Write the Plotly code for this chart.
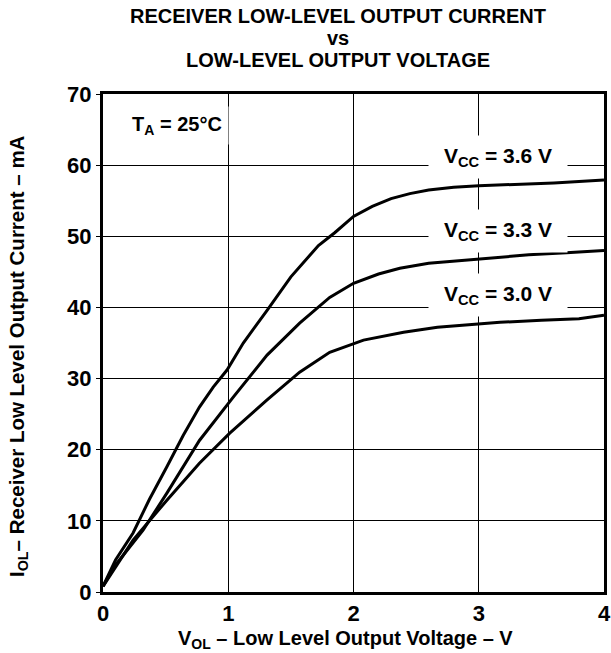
import plotly.graph_objects as go

# Data (V_OL in volts, I_OL in mA)
v_36 = [0.0, 0.1, 0.24, 0.37, 0.51, 0.64, 0.77, 0.88, 0.99, 1.12, 1.31, 1.5, 1.72, 1.85, 2.0, 2.15, 2.3, 2.45, 2.6, 2.8, 3.0, 3.2, 3.4, 3.6, 3.8, 4.0]
i_36 = [0.8, 4.5, 8.3, 13.0, 17.6, 22.0, 26.0, 28.8, 31.2, 35.0, 39.6, 44.3, 48.7, 50.5, 52.8, 54.2, 55.3, 56.0, 56.5, 56.9, 57.1, 57.2, 57.4, 57.5, 57.7, 57.9]

v_33 = [0.0, 0.1, 0.32, 0.51, 0.77, 1.04, 1.31, 1.57, 1.81, 2.0, 2.2, 2.37, 2.6, 2.85, 3.11, 3.4, 3.7, 4.0]
i_33 = [0.8, 3.8, 8.7, 13.9, 21.3, 27.4, 33.3, 37.8, 41.4, 43.4, 44.7, 45.5, 46.2, 46.6, 47.0, 47.4, 47.7, 48.0]

v_30 = [0.0, 0.1, 0.24, 0.51, 0.77, 1.01, 1.31, 1.57, 1.81, 2.08, 2.4, 2.67, 3.0, 3.17, 3.5, 3.8, 4.0]
i_30 = [0.8, 3.5, 7.3, 12.9, 18.1, 22.3, 27.0, 30.9, 33.7, 35.4, 36.5, 37.2, 37.7, 37.9, 38.2, 38.4, 38.9]

labels = ["V<sub>CC</sub> = 3.6 V", "V<sub>CC</sub> = 3.3 V", "V<sub>CC</sub> = 3.0 V"]
label_y = [61.1, 50.8, 41.7]
label_x = 3.15

x_ticks = [0, 1, 2, 3, 4]
y_ticks = [0, 10, 20, 30, 40, 50, 60, 70]

title_lines = ["RECEIVER LOW-LEVEL OUTPUT CURRENT", "vs", "LOW-LEVEL OUTPUT VOLTAGE"]

FONT = "Liberation Sans, Arial, sans-serif"

L, R, T, B = 103, 7, 94, 61
W, H = 611, 653
PW, PH = W - L - R, H - T - B

def px_to_paper_y(py):
    return (H - B - py) / PH

def px_to_paper_x(px):
    return (px - L) / PW

fig = go.Figure()
for xs, ys in [(v_36, i_36), (v_33, i_33), (v_30, i_30)]:
    fig.add_trace(go.Scatter(x=xs, y=ys, mode="lines",
                             line=dict(color="black", width=3), showlegend=False))

for text, yl in zip(labels, label_y):
    fig.add_annotation(x=label_x, y=yl, text="<b>" + text + "</b>", showarrow=False,
                       font=dict(family=FONT, size=21, color="black"),
                       bgcolor="white", borderpad=8, width=122)

fig.add_annotation(x=0.59, y=65.6, text="<b>T<sub>A</sub> = 25°C</b>", showarrow=False,
                   font=dict(family=FONT, size=20, color="black"),
                   bgcolor="white", borderpad=6)

# Title lines
for text, py in zip(title_lines, [16, 38, 60]):
    fig.add_annotation(xref="paper", yref="paper", x=px_to_paper_x(338), y=px_to_paper_y(py),
                       xanchor="center", yanchor="middle", showarrow=False,
                       text="<b>" + text + "</b>",
                       font=dict(family=FONT, size=20, color="black"))

# Axis titles
fig.add_annotation(xref="paper", yref="paper", x=px_to_paper_x(345), y=px_to_paper_y(639),
                   xanchor="center", yanchor="middle", showarrow=False,
                   text="<b>V<sub>OL</sub> – Low Level Output Voltage – V</b>",
                   font=dict(family=FONT, size=20, color="black"))
fig.add_annotation(xref="paper", yref="paper", x=px_to_paper_x(18), y=px_to_paper_y(356),
                   xanchor="center", yanchor="middle", showarrow=False, textangle=-90,
                   text="<b>I<sub>OL</sub>– Receiver Low Level Output Current – mA</b>",
                   font=dict(family=FONT, size=20.5, color="black"))

fig.update_layout(
    width=W, height=H,
    margin=dict(l=L, r=R, t=T, b=B),
    paper_bgcolor="white", plot_bgcolor="white",
    font=dict(family=FONT, color="black"),
)
fig.update_xaxes(range=[0, 4], tickvals=x_ticks, ticktext=[f"<b>{t}</b>" for t in x_ticks],
                 automargin=False,
                 showgrid=True, gridcolor="black", gridwidth=1.3,
                 showline=True, linecolor="black", linewidth=3, mirror=True,
                 zeroline=False, ticks="", tickfont=dict(family=FONT, size=22, color="black"))
fig.update_yaxes(range=[0, 70], tickvals=y_ticks, ticktext=[f"<b>{t}</b>" for t in y_ticks],
                 automargin=False,
                 showgrid=True, gridcolor="black", gridwidth=1.3,
                 showline=True, linecolor="black", linewidth=3, mirror=True,
                 zeroline=False, ticks="outside", ticklen=4, tickcolor="black",
                 tickfont=dict(family=FONT, size=22, color="black"))

fig.write_html("out.html", config={"displayModeBar": False},
               post_script="document.body.style.margin='0';")
